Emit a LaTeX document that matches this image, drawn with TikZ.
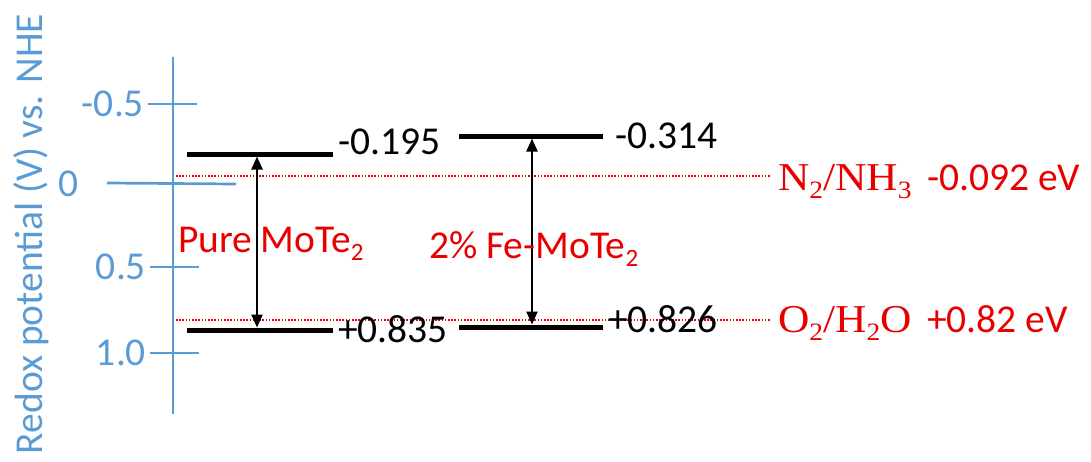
\documentclass[tikz,border=0pt]{standalone}
\usepackage{fontspec}
\setmainfont{Carlito}
\newfontfamily\cmb{Liberation Serif}
\usetikzlibrary{arrows.meta}
\definecolor{axblue}{RGB}{91,155,213}
\definecolor{lblred}{RGB}{232,0,0}
\newcommand\subs[1]{\raisebox{-0.22em}{\fontsize{25}{25}\selectfont #1}}
\newcommand\serifchem[1]{\scalebox{1.1}[1]{\cmb #1}}
\begin{document}
\begin{tikzpicture}[x=1pt,y=-1pt,
  every node/.style={inner sep=0pt,outer sep=0pt,font=\fontsize{39.5}{46}\selectfont},
  axis/.style={draw=axblue,line width=2.7pt},
  ticklbl/.style={text=axblue,anchor=east},
  level/.style={draw=black,line width=5pt},
  vallbl/.style={text=black,anchor=base west},
  gap/.style={draw=black,line width=2.3pt,{Triangle[width=11pt,length=13pt]}-{Triangle[width=11pt,length=13pt]}},
  redox/.style={draw=lblred,line width=1.6pt,dash pattern=on 1.6pt off 1.6pt},
  redlbl/.style={text=lblred,anchor=base west}]
\useasboundingbox (0,0) rectangle (1091,461);
% axis
\coordinate (axt) at (173,57);
\coordinate (axb) at (173,414);
\draw[axis] (axt) -- (axb);
\coordinate (t1a) at (148,104); \coordinate (t1b) at (197,104);
\coordinate (t2a) at (107,183); \coordinate (t2b) at (236,184);
\coordinate (t3a) at (150,267); \coordinate (t3b) at (199,267);
\coordinate (t4a) at (150,353); \coordinate (t4b) at (199,353);
\draw[axis] (t1a) -- (t1b);
\draw[axis] (t2a) -- (t2b);
\draw[axis] (t3a) -- (t3b);
\draw[axis] (t4a) -- (t4b);
\node[ticklbl] (l1) at (144,104) {-0.5};
\node[ticklbl] (l2) at (79,184) {0};
\node[ticklbl] (l3) at (146,267) {0.5};
\node[ticklbl] (l4) at (146,353) {1.0};
\node[text=axblue,rotate=90,anchor=base] (ylab) at (42,234) {Redox potential (V) vs. NHE};
% redox dotted lines
\coordinate (n1) at (176,176); \coordinate (n2) at (770,176);
\coordinate (o1) at (176,320); \coordinate (o2) at (770,320);
\draw[redox] (n1) -- (n2);
\draw[redox] (o1) -- (o2);
% pure MoTe2
\coordinate (pa1) at (187,154); \coordinate (pa2) at (333,154);
\coordinate (pb1) at (187,330); \coordinate (pb2) at (333,330);
\draw[level] (pa1) -- (pa2);
\draw[level] (pb1) -- (pb2);
\coordinate (parr1) at (257,156.5); \coordinate (parr2) at (257,327.5);
\draw[gap] (parr1) -- (parr2);
\node[vallbl] (pv1) at (338,154) {-0.195};
\node[vallbl] (pv2) at (338,342) {+0.835};
\node[redlbl] (pl) at (178,252) {Pure MoTe\subs{2}};
% Fe-MoTe2
\coordinate (fa1) at (459,136); \coordinate (fa2) at (603,136);
\coordinate (fb1) at (459,327); \coordinate (fb2) at (603,327);
\draw[level] (fa1) -- (fa2);
\draw[level] (fb1) -- (fb2);
\coordinate (farr1) at (532,138.5); \coordinate (farr2) at (532,324.5);
\draw[gap] (farr1) -- (farr2);
\node[vallbl] (fv1) at (615,148) {-0.314};
\node[vallbl] (fv2) at (608,332) {+0.826};
\node[redlbl] (fl) at (429,258) {2\% Fe-MoTe\subs{2}};
% redox labels
\node[redlbl] (nl) at (778,190) {\serifchem{N\subs{2}/NH\subs{3}}};
\node[redlbl] (nv) at (927,190) {-0.092 eV};
\node[redlbl] (ol) at (778,332) {\serifchem{O\subs{2}/H\subs{2}O}};
\node[redlbl] (ov) at (927,332) {+0.82 eV};
\end{tikzpicture}
\end{document}
